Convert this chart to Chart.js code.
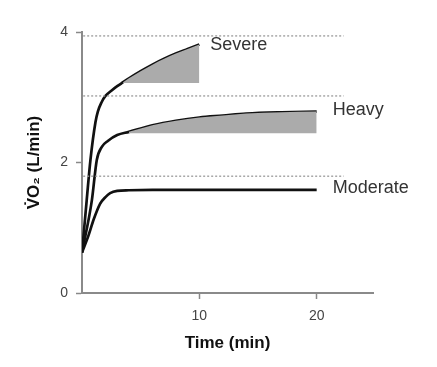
<!DOCTYPE html>
<html>
<head>
<meta charset="utf-8">
<script src="https://cdn.jsdelivr.net/npm/chart.js@4"></script>
<style>
  html, body { margin: 0; padding: 0; background: #fff; }
  #wrap { width: 437px; height: 367px; }
</style>
</head>
<body>
<div id="wrap"><canvas id="vo2Chart" width="437" height="367"></canvas></div>
<script>
// ---- data ----
const curveNames = ['Severe', 'Heavy', 'Moderate'];

const severeTime = [0, 0.4, 0.72, 1.15, 1.35, 1.66, 2, 2.5, 3, 3.5, 4, 5, 6, 7, 8, 9, 10];
const severeVO2  = [0.62, 1.42, 2.04, 2.62, 2.78, 2.92, 3.02, 3.1, 3.17, 3.23, 3.29, 3.4, 3.5, 3.59, 3.67, 3.74, 3.81];

const heavyTime = [0, 0.84, 1.26, 1.69, 2.2, 3, 4, 6, 8, 10, 12, 14, 17, 20];
const heavyVO2  = [0.62, 1.42, 2.04, 2.24, 2.33, 2.42, 2.47, 2.57, 2.64, 2.69, 2.72, 2.75, 2.77, 2.78];

const moderateTime = [0, 0.55, 1.0, 1.55, 2.0, 2.4, 3.0, 4, 6, 10, 15, 20];
const moderateVO2  = [0.62, 0.88, 1.13, 1.37, 1.47, 1.53, 1.565, 1.575, 1.58, 1.58, 1.58, 1.58];

// shaded slow component: start time and floor value
const severeShadeFrom = 3.5;
const severeShadeBase = 3.22;
const heavyShadeFrom = 4;
const heavyShadeBase = 2.45;

// dotted threshold lines
const thresholdVO2 = [3.94, 3.02, 1.79];
const thresholdTime = [0.1, 22.3];

const xTicks = [10, 20];
const yTicks = [0, 2, 4];

// ==========================================
//  helpers
// ==========================================
function toPoints(ts, vs) {
    return ts.map((t, i) => ({ x: t, y: vs[i] }));
}

function shadePoints(ts, vs, from) {
    return toPoints(ts, vs).filter(p => p.x >= from);
}

const FONT = "'Liberation Sans', Arial, Helvetica, sans-serif";

const datasets = [];

// zones grises d'abord (sous les courbes)
datasets.push({
    data: shadePoints(severeTime, severeVO2, severeShadeFrom),
    borderWidth: 0,
    pointRadius: 0,
    backgroundColor: '#ababab',
    fill: { value: severeShadeBase },
    cubicInterpolationMode: 'monotone'
});
datasets.push({
    data: shadePoints(heavyTime, heavyVO2, heavyShadeFrom),
    borderWidth: 0,
    pointRadius: 0,
    backgroundColor: '#ababab',
    fill: { value: heavyShadeBase },
    cubicInterpolationMode: 'monotone'
});

thresholdVO2.forEach(v => {
    datasets.push({
        data: thresholdTime.map(t => ({ x: t, y: v })),
        borderColor: '#9a9a9a',
        borderWidth: 1.3,
        borderDash: [2, 2],
        pointRadius: 0,
        fill: false
    });
});

const curves = [
    toPoints(severeTime, severeVO2),
    toPoints(heavyTime, heavyVO2),
    toPoints(moderateTime, moderateVO2)
];
curves.forEach((pts, i) => {
    datasets.push({
        label: curveNames[i],
        data: pts,
        borderColor: '#111',
        borderWidth: 2.7,
        pointRadius: 0,
        fill: false,
        cubicInterpolationMode: 'monotone'
    });
});

// étiquettes au bout de chaque courbe
const curveLabels = {
    id: 'curveLabels',
    afterDatasetsDraw(chart) {
        const { ctx, scales: { x, y } } = chart;
        const gaps = [11, 16, 16];
        ctx.save();
        ctx.font = '18px ' + FONT;
        ctx.fillStyle = '#333';
        ctx.textAlign = 'left';
        ctx.textBaseline = 'middle';
        curves.forEach((pts, i) => {
            const last = pts[pts.length - 1];
            const px = x.getPixelForValue(last.x) + gaps[i];
            const py = y.getPixelForValue(last.y) + (i === 0 ? 1 : -2);
            ctx.fillText(curveNames[i], px, py);
        });
        ctx.restore();
    }
};

new Chart(document.getElementById('vo2Chart'), {
    type: 'line',
    data: { datasets },
    plugins: [curveLabels],
    options: {
        responsive: false,
        animation: false,
        layout: { padding: { left: 0, top: 32, right: 64, bottom: 0 } },
        plugins: {
            legend: { display: false },
            tooltip: { enabled: false }
        },
        scales: {
            x: {
                type: 'linear',
                min: 0,
                max: 24.8,
                afterBuildTicks: s => { s.ticks = xTicks.map(v => ({ value: v })); },
                afterFit: s => { s.height = 74; },
                grid: { drawOnChartArea: false, drawTicks: true, tickLength: 6, tickColor: '#888', tickWidth: 1.5 },
                border: { color: '#8a8a8a', width: 2 },
                ticks: { padding: 9, color: '#444', font: { family: FONT, size: 14 } },
                title: {
                    display: true,
                    text: 'Time (min)',
                    color: '#111',
                    font: { family: FONT, size: 17, weight: 'bold' },
                    padding: { top: 4, bottom: 13 }
                }
            },
            y: {
                min: 0,
                max: 4,
                afterBuildTicks: s => { s.ticks = yTicks.map(v => ({ value: v })); },
                afterFit: s => { s.width = 82; },
                grid: { drawOnChartArea: false, drawTicks: true, tickLength: 6, tickColor: '#888', tickWidth: 1.5 },
                border: { color: '#8a8a8a', width: 2 },
                ticks: { padding: 8, color: '#444', font: { family: FONT, size: 14 } },
                title: {
                    display: true,
                    text: 'V\u0307O\u2082 (L/min)',
                    color: '#111',
                    font: { family: FONT, size: 17, weight: 'bold' },
                    padding: { top: 24, bottom: 4 }
                }
            }
        }
    }
});
</script>
</body>
</html>
